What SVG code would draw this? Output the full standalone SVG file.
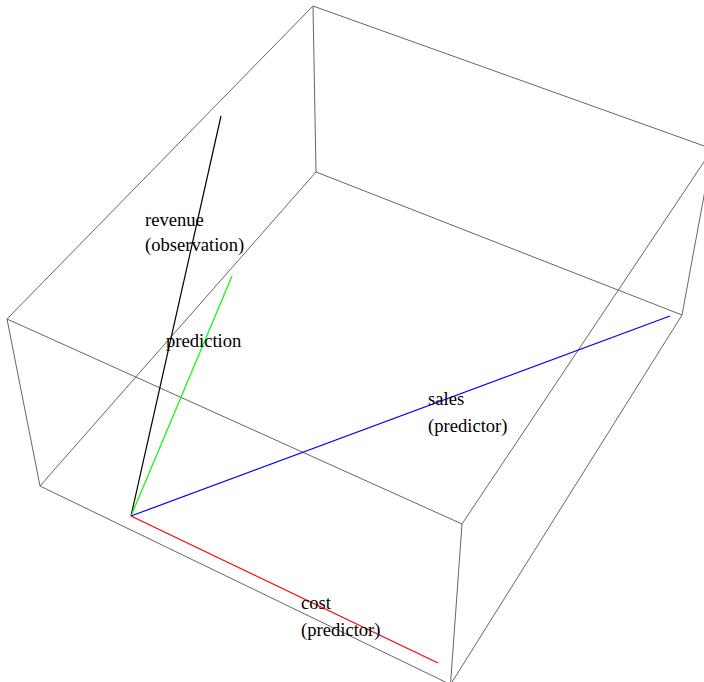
<svg xmlns="http://www.w3.org/2000/svg" width="704" height="682" viewBox="0 0 704 682">
<style>
.box{stroke:#666;stroke-width:1;fill:none}
.v{stroke-width:1.2;fill:none}
text{font-family:"Liberation Serif","Times New Roman",serif;font-size:18.6px;fill:#000}
</style>
<rect width="704" height="682" fill="#fff"/>
<g id="box">
<line class="box" x1="313" y1="6" x2="7" y2="319"/>
<line class="box" x1="313" y1="6" x2="712.6" y2="149"/>
<line class="box" x1="313" y1="6" x2="316" y2="172"/>
<line class="box" x1="316" y1="172" x2="40" y2="486"/>
<line class="box" x1="316" y1="172" x2="682" y2="315"/>
<line class="box" x1="7" y1="319" x2="40" y2="486"/>
<line class="box" x1="7" y1="319" x2="462" y2="524"/>
<line class="box" x1="462" y1="524" x2="712.6" y2="149"/>
<line class="box" x1="462" y1="524" x2="450.5" y2="684.5"/>
<line class="box" x1="40" y1="486" x2="450.5" y2="684.5"/>
<line class="box" x1="682" y1="315" x2="712.6" y2="149"/>
<line class="box" x1="682" y1="315" x2="450.5" y2="684.5"/>
</g>
<g id="connectors">
<line id="revenue" class="v" stroke="#000" x1="131" y1="516" x2="221" y2="116"/>
<line id="prediction" class="v" stroke="#00ff00" x1="131" y1="516" x2="232" y2="276"/>
<line id="sales" class="v" stroke="#0000ff" x1="131" y1="516" x2="670" y2="316"/>
<line id="cost" class="v" stroke="#ff0000" x1="131" y1="516" x2="438" y2="663"/>
</g>
<g id="label-revenue"><text x="145" y="226">revenue</text><text x="145" y="251">(observation)</text></g>
<g id="label-prediction"><text x="166" y="347">prediction</text></g>
<g id="label-sales"><text x="428" y="405">sales</text><text x="428" y="432">(predictor)</text></g>
<g id="label-cost"><text x="301" y="609">cost</text><text x="301" y="636">(predictor)</text></g>
</svg>
